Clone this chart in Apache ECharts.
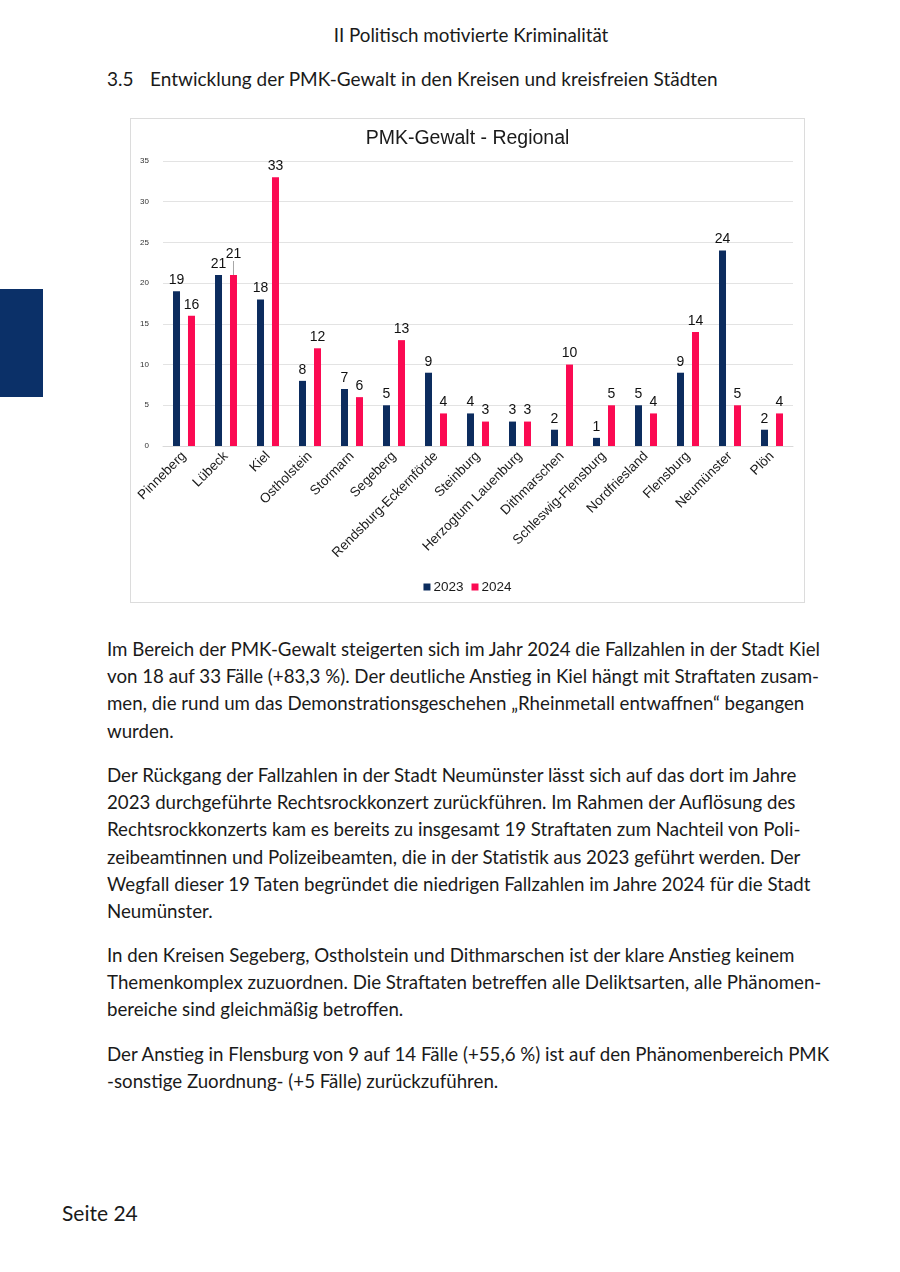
<!DOCTYPE html>
<html><head><meta charset="utf-8">
<script src="https://cdn.jsdelivr.net/npm/echarts@6/dist/echarts.min.js"></script>
<style>
html,body{margin:0;padding:0;background:#fff;}
body{width:900px;height:1272px;position:relative;overflow:hidden;font-family:Lato,"Noto Sans",sans-serif;color:#1a1a1a;}
.abs{position:absolute;white-space:nowrap;}
#hdr{left:0;width:942px;text-align:center;top:23px;font-size:18.8px;}
#sec{left:107px;top:67px;font-size:19px;}
#sec span{display:inline-block;width:43px;}
#side{left:0;top:289px;width:43px;height:108px;background:#0b3068;}
#chart{left:130px;top:118px;width:675px;height:485px;border:1px solid #dcdcdc;box-sizing:border-box;}
.p{position:absolute;left:107px;font-size:18.7px;line-height:27.2px;white-space:nowrap;}
#foot{left:62px;top:1200px;font-size:21px;}
</style></head>
<body>
<div id="hdr" class="abs">II Politisch motivierte Kriminalität</div>
<div id="sec" class="abs"><span>3.5</span>Entwicklung der PMK-Gewalt in den Kreisen und kreisfreien Städten</div>
<div id="side" class="abs"></div>
<div id="chart" class="abs"></div>
<div class="p" style="top:636px">Im Bereich der PMK-Gewalt steigerten sich im Jahr 2024 die Fallzahlen in der Stadt Kiel<br>von 18 auf 33 Fälle (+83,3 %). Der deutliche Anstieg in Kiel hängt mit Straftaten zusam-<br>men, die rund um das Demonstrationsgeschehen „Rheinmetall entwaffnen“ begangen<br>wurden.</div>
<div class="p" style="top:762px">Der Rückgang der Fallzahlen in der Stadt Neumünster lässt sich auf das dort im Jahre<br>2023 durchgeführte Rechtsrockkonzert zurückführen. Im Rahmen der Auflösung des<br>Rechtsrockkonzerts kam es bereits zu insgesamt 19 Straftaten zum Nachteil von Poli-<br>zeibeamtinnen und Polizeibeamten, die in der Statistik aus 2023 geführt werden. Der<br>Wegfall dieser 19 Taten begründet die niedrigen Fallzahlen im Jahre 2024 für die Stadt<br>Neumünster.</div>
<div class="p" style="top:942px">In den Kreisen Segeberg, Ostholstein und Dithmarschen ist der klare Anstieg keinem<br>Themenkomplex zuzuordnen. Die Straftaten betreffen alle Deliktsarten, alle Phänomen-<br>bereiche sind gleichmäßig betroffen.</div>
<div class="p" style="top:1041px">Der Anstieg in Flensburg von 9 auf 14 Fälle (+55,6 %) ist auf den Phänomenbereich PMK<br>-sonstige Zuordnung- (+5 Fälle) zurückzuführen.</div>
<div id="foot" class="abs">Seite 24</div>
<script>
const categories = ["Pinneberg","Lübeck","Kiel","Ostholstein","Stormarn","Segeberg","Rendsburg-Eckernförde","Steinburg","Herzogtum Lauenburg","Dithmarschen","Schleswig-Flensburg","Nordfriesland","Flensburg","Neumünster","Plön"];
const values2023 = [19,21,18,8,7,5,9,4,3,2,1,5,9,24,2];
const values2024 = [16,21,33,12,6,13,4,3,3,10,5,4,14,5,4];
const yTicks = [0,5,10,15,20,25,30,35];

const chart = echarts.init(document.getElementById('chart'));
const FONT = 'Liberation Sans, Arial';
const lbl = {show:true,position:'top',fontFamily:FONT,fontSize:14,color:'#111',distance:4};
const data2024 = values2024.map((v,i)=> i===1 ? {value:v,labelLine:{show:true,lineStyle:{color:'#a6a6a6',width:1}}} : v);
chart.setOption({
  animation:false,
  title:{text:'PMK-Gewalt - Regional',left:'center',top:5,textStyle:{fontFamily:FONT,fontSize:19.5,fontWeight:'normal',color:'#1a1a1a'}},
  legend:{bottom:3,left:'center',itemWidth:7,itemHeight:7,itemGap:8,icon:'rect',textStyle:{fontFamily:FONT,fontSize:13.5,color:'#1a1a1a',padding:[0,0,0,-2]},data:['2023','2024']},
  grid:{left:32,right:11,top:42,bottom:156,containLabel:false},
  xAxis:{type:'category',data:categories,axisTick:{show:false},axisLine:{lineStyle:{color:'#d9d9d9'}},
    axisLabel:{rotate:45,interval:0,fontFamily:FONT,fontSize:13.5,color:'#1a1a1a',margin:8}},
  yAxis:{type:'value',min:0,max:35,interval:5,axisLine:{show:false},axisTick:{show:false},
    axisLabel:{fontFamily:FONT,fontSize:8,color:'#333',margin:14,formatter:v=>yTicks.includes(v)?String(v):''},
    splitLine:{lineStyle:{color:'#e3e3e3'}}},
  series:[
    {name:'2023',type:'bar',data:values2023,barWidth:7,barGap:'114%',itemStyle:{color:'#0c2c5e'},label:lbl},
    {name:'2024',type:'bar',data:data2024,barWidth:7,itemStyle:{color:'#fb0a52'},label:lbl,
      labelLayout:(p)=> p.dataIndex===1 ? {dy:-10} : {}}
  ]
});
</script>
</body></html>
